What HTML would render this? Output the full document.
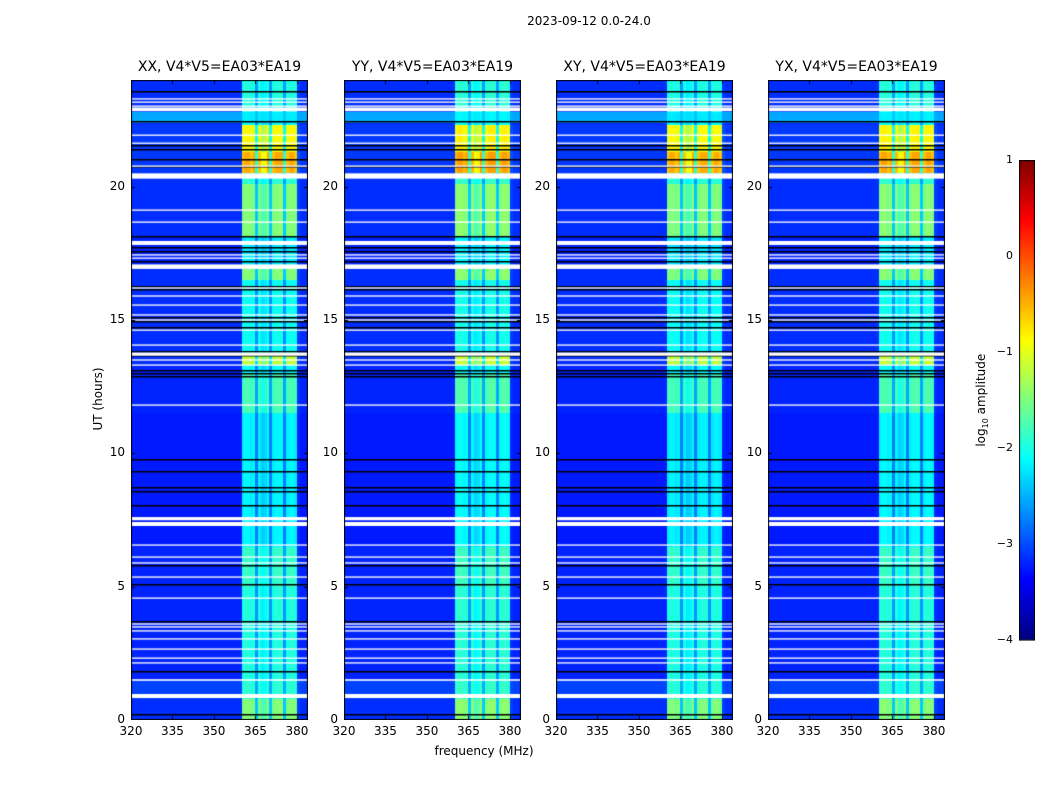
<!DOCTYPE html>
<html><head><meta charset="utf-8">
<style>
body{margin:0;background:#fff;}
#root{position:relative;width:1050px;height:800px;font-family:"DejaVu Sans","Liberation Sans",sans-serif;color:#000;overflow:hidden;}
.t{position:absolute;white-space:nowrap;}
canvas{position:absolute;}
</style></head><body>
<div id="root">
<div class="t" style="left:489px;top:14px;width:200px;text-align:center;font-size:12px;">2023-09-12 0.0-24.0</div>
<div class="t" style="left:50px;top:392px;width:96px;text-align:center;font-size:12px;transform:rotate(-90deg);">UT (hours)</div>
<div class="t" style="left:384px;top:744px;width:200px;text-align:center;font-size:12px;">frequency (MHz)</div>
<div class="t" style="left:922px;top:392px;width:120px;text-align:center;font-size:12px;transform:rotate(-90deg);">log<sub style="font-size:8px">10</sub> amplitude</div>
<canvas id="cb" width="16" height="481" style="left:1019px;top:160px;"></canvas>
</div>
<script>
// ---- data ----
const panelTitles = ["XX, V4*V5=EA03*EA19","YY, V4*V5=EA03*EA19","XY, V4*V5=EA03*EA19","YX, V4*V5=EA03*EA19"];
const panelOffsets = [0, 0.05, -0.02, 0.02];
const xTicks = [320,335,350,365,380];
const yTicks = [0,5,10,15,20];
const cbTicks = [1,0,-1,-2,-3,-4];
// per 1-MHz channel (320..383) band weight
const channelWeight = [0,0,0,0,0,0,0,0,0,0,0,0,0,0,0,0,0,0,0,0,0,0,0,0,0,0,0,0,0,0,0,0,0,0,0,0,0,0,0,0,
  0.95,1,1,0.95,1,0.45,0.95,0.8,0.85,1,0.45,0.95,1,1,1,0.45,0.95,1,1,0.95,0.05,0,0,0];
// time segments
const segStart = [0,   0.8, 1.5, 5.0, 6.5, 11.5, 13.0, 13.3, 13.7, 16.5, 17.0, 18.1, 20.1, 20.5, 21.3, 22.3, 22.4, 22.8];
const segEnd   = [0.8, 1.5, 5.0, 6.5, 11.5,13.0, 13.3, 13.7, 16.5, 17.0, 18.1, 20.1, 20.5, 21.3, 22.3, 22.4, 22.8, 24];
const segBand  = [-1.45,-1.9,-1.95,-1.85,-2.15,-1.75,-2.1,-1.15,-2.05,-1.45,-2.2,-1.45,-1.9,-0.45,-0.85,-2.1,-2.2,-1.95];
const segBg    = [-3.15,-3.05,-3.2,-3.2,-3.25,-3.2,-3.2,-3.15,-3.15,-3.15,-3.2,-3.15,-3.15,-3.1,-3.1,-3.15,-2.55,-3.15];
// flagged (white) rows: centre hour, width hours
const whiteH = [23.29,23.17,23.02,22.9,21.93,21.63,20.77,20.4,19.12,18.67,17.89,17.44,17.32,17.0,16.2,15.9,15.56,15.19,15.0,14.62,14.06,13.72,13.5,13.31,11.81,7.55,7.35,6.56,6.11,5.89,5.36,4.57,3.6,3.49,3.34,3.04,2.66,2.32,2.14,1.5,0.9];
const whiteW = [0.05,0.05,0.05,0.14,0.05,0.05,0.05,0.2,0.05,0.05,0.15,0.05,0.05,0.17,0.05,0.05,0.05,0.05,0.05,0.05,0.05,0.12,0.05,0.05,0.05,0.12,0.15,0.05,0.05,0.05,0.05,0.05,0.05,0.05,0.05,0.05,0.05,0.05,0.05,0.06,0.15];
// black rows: centre hour
const blackH = [23.55,22.42,21.52,21.37,21.0,20.73,18.11,17.7,17.55,17.17,16.24,16.12,15.07,14.92,14.7,13.8,13.65,13.09,12.97,12.86,9.75,9.3,8.7,8.55,8.02,5.77,5.06,3.67,1.8,0.19];

// ---- layout ----
const panelLeft = [131,344,556,768], PW=177, PT=80, PH=640;
const fMin=320, fMax=384, tMin=0, tMax=24, vMin=-4, vMax=1;
const xs = f => (f-fMin)/(fMax-fMin)*PW;
const ys = h => PH - (h-tMin)/(tMax-tMin)*PH;

function jet(v){
  let t=(v-vMin)/(vMax-vMin); t=Math.max(0,Math.min(1,t));
  const c=x=>Math.max(0,Math.min(1,x));
  const r=c(1.5-Math.abs(4*t-3)), g=c(1.5-Math.abs(4*t-2)), b=c(1.5-Math.abs(4*t-1));
  return [r*255|0,g*255|0,b*255|0];
}
function seg(h){for(let i=0;i<segStart.length;i++){if(h>=segStart[i]&&h<segEnd[i])return i;}return segStart.length-1;}

const root=document.getElementById('root');
function addText(txt,l,t,w,align,name,size){
  const d=document.createElement('div');d.className='t';
  
  
  d.style.left=l+'px';d.style.top=t+'px';d.style.width=w+'px';d.style.textAlign=align;d.style.fontSize=(size||12)+'px';
  d.textContent=txt;root.appendChild(d);return d;
}

panelLeft.forEach((L,p)=>{
  const cv=document.createElement('canvas');
  
  
  cv.width=PW;cv.height=PH;cv.style.left=L+'px';cv.style.top=PT+'px';
  root.appendChild(cv);
  const ctx=cv.getContext('2d');
  const img=ctx.createImageData(PW,PH);
  for(let y=0;y<PH;y++){
    const h=tMax-(y+0.5)/PH*(tMax-tMin);
    const s=seg(h);
    const bg=segBg[s], band=segBand[s]+panelOffsets[p];
    for(let x=0;x<PW;x++){
      const f=fMin+(x+0.5)/PW*(fMax-fMin);
      const ch=Math.min(channelWeight.length-1,Math.floor(f-fMin));
      const v=bg+channelWeight[ch]*(band-bg);
      const [r,g,b]=jet(v);const k=(y*PW+x)*4;
      img.data[k]=r;img.data[k+1]=g;img.data[k+2]=b;img.data[k+3]=255;
    }
  }
  ctx.putImageData(img,0,0);
  ctx.fillStyle='#000';
  blackH.forEach(h=>ctx.fillRect(0,Math.round(ys(h))-1,PW,1.5));
  ctx.fillStyle='#fff';
  whiteH.forEach((h,i)=>{const y0=ys(h+whiteW[i]/2),y1=ys(h-whiteW[i]/2);ctx.fillRect(0,y0,PW,Math.max(1.3,y1-y0));});
  ctx.strokeStyle='#000';ctx.lineWidth=1;
  ctx.strokeRect(0.5,0.5,PW-1,PH-1);
  ctx.beginPath();
  xTicks.forEach(f=>{const x=Math.round(xs(f))+0.5;ctx.moveTo(x,PH);ctx.lineTo(x,PH-4);ctx.moveTo(x,0);ctx.lineTo(x,4);});
  yTicks.forEach(h=>{const y=Math.round(ys(h))+0.5;ctx.moveTo(0,y);ctx.lineTo(4,y);ctx.moveTo(PW,y);ctx.lineTo(PW-4,y);});
  ctx.stroke();
  addText(panelTitles[p],L-30,59,PW+60,'center','panel-title-'+(p+1),14);
  xTicks.forEach(f=>addText(String(f),L+xs(f)-20,724,40,'center','x-tick-label',12));
  yTicks.forEach(h=>addText(String(h),L-44,PT+ys(h)-8,38,'right','y-tick-label',12));
});

// colorbar
const cb=document.getElementById('cb'),cc=cb.getContext('2d');
for(let y=0;y<480;y++){const v=vMax-(y+0.5)/480*(vMax-vMin);const [r,g,b]=jet(v);cc.fillStyle=`rgb(${r},${g},${b})`;cc.fillRect(0,y,16,1);}
cc.strokeStyle='#000';cc.strokeRect(0.5,0.5,15,479.5);
cbTicks.forEach(v=>{
  const y=160+(vMax-v)/(vMax-vMin)*480;
  addText(v<0?'\u2212'+(-v):String(v),970,y-7,43,'right','colorbar-tick-label',11);
});
</script>
</body></html>
